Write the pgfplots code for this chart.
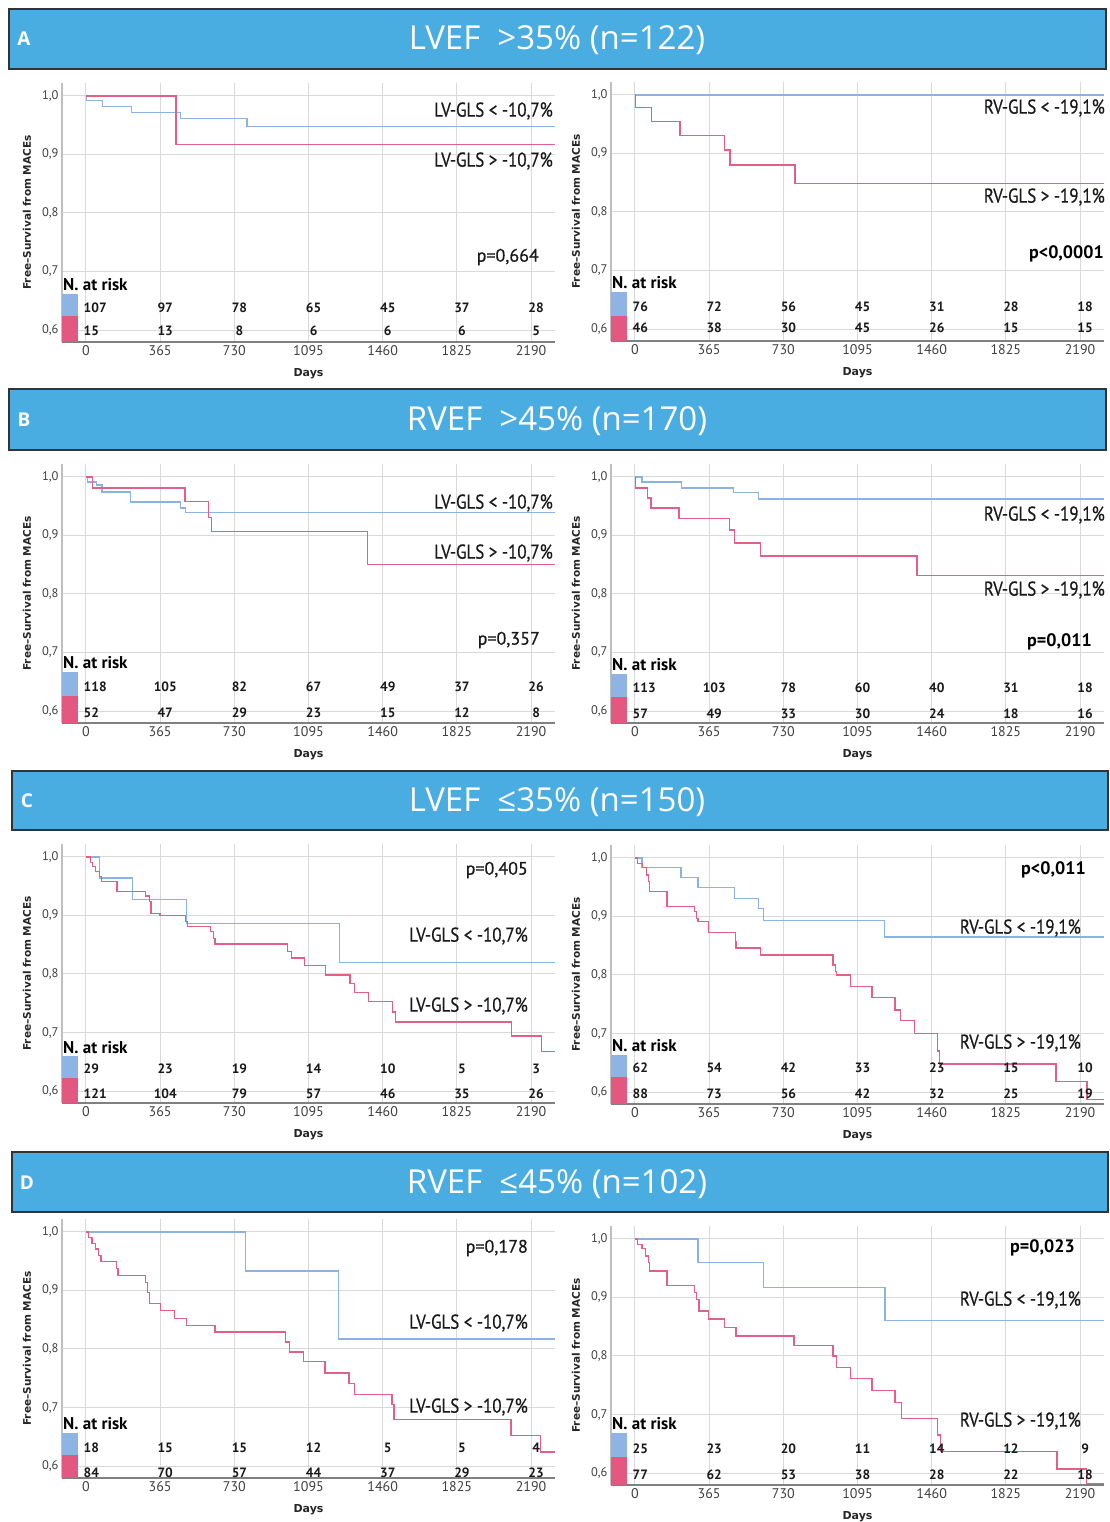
\documentclass[border=0pt]{standalone}
\usepackage{pgfplots}
\pgfplotsset{compat=1.18}
\usepackage{fontspec}
\usepackage{graphicx}
\setmainfont{PT Sans}
\newfontfamily\osans{Open Sans}
\newfontfamily\dvs{DejaVu Sans}
\newfontfamily\ptm[FakeBold=0.6]{PT Sans}
\definecolor{banner}{RGB}{74,173,226}
\definecolor{kmblue}{RGB}{138,178,226}
\definecolor{kmpink}{RGB}{226,96,136}
\definecolor{boxblue}{RGB}{141,180,226}
\definecolor{boxpink}{RGB}{226,88,128}
\newcommand\fs[1]{\fontsize{#1}{#1}\selectfont}
\tikzset{rk/.style={font=\bfseries\fs{13.5}, inner sep=0pt, text=black!90}}
\pgfplotsset{
 km/.style={
  scale only axis, width=493pt, height=259pt,
  xmin=-118, xmax=2308, ymin=0.5795, ymax=1.022,
  axis x line*=bottom, axis y line*=left,
  x axis line style={draw=black!50, line width=1.3pt, -},
  y axis line style={draw=black!25, line width=1.1pt, -},
  xtick={0,365,730,1095,1460,1825,2190},
  xticklabels={0,365,730,1095,1460,1825,2190},
  ytick={0.6,0.7,0.8,0.9,1.0},
  yticklabels={{0,6},{0,7},{0,8},{0,9},{1,0}},
  major tick length=0pt,
  grid=major, grid style={draw=black!15, line width=1pt},
  xticklabel style={font=\fs{14}, text=black!75},
  yticklabel style={font=\fs{12.5}, text=black!75},
  ylabel={Free–Survival from MACEs},
  ylabel style={font=\dvs\bfseries\fs{10.5}, text=black!85, at={(axis description cs:-0.071,0.5)}, anchor=center},
  xlabel={Days},
  xlabel style={font=\dvs\bfseries\fs{11}, text=black!85, at={(axis description cs:0.5,0)}, anchor=center, yshift=-32pt},
  clip=true,
 },
 bl/.style={const plot, color=kmblue, line width=1.3pt, mark=none},
 pk/.style={const plot, color=kmpink, line width=1.3pt, mark=none},
}
\newcommand\riskrow[8]{%
 \node[rk,anchor=west] at (axis cs:-12,#1) {#2};
 \node[rk] at (axis cs:390,#1) {#3};
 \node[rk] at (axis cs:755,#1) {#4};
 \node[rk] at (axis cs:1120,#1) {#5};
 \node[rk] at (axis cs:1485,#1) {#6};
 \node[rk] at (axis cs:1850,#1) {#7};
 \node[rk] at (axis cs:2215,#1) {#8};
}
\newcommand\riskhead[3]{%
 \fill[boxblue] (axis cs:-118,#2) rectangle (axis cs:-40,#3);
 \fill[boxpink] (axis cs:-118,#3) rectangle (axis cs:-40,0.5795);
 \node[font=\bfseries\fs{17}, anchor=west, inner sep=0pt] at (axis cs:-113,#1) {N. at risk};
}
\newcommand\lab[3]{\node[anchor=east, inner sep=0pt, font=\ptm\fs{20}, text=black!90] at (#1pt,-#2pt) {\scalebox{0.85}[1]{#3}};}
\newcommand\pv[3]{\node[anchor=east, inner sep=0pt, font=\ptm\fs{18}, text=black!90] at (#1pt,-#2pt) {#3};}
\newcommand\pvb[3]{\node[anchor=east, inner sep=0pt, font=\bfseries\fs{18}] at (#1pt,-#2pt) {#3};}
\newcommand\banner[7]{%
 \draw[fill=banner, draw=black!80, line width=1.5pt] (#1pt,-#2pt) rectangle (#3pt,-#4pt);
 \node[text=white, font=\osans\bfseries\fs{19}] at (#1pt+15pt,-#5pt) {#6};
 \node[text=white, font=\osans\fs{33}] at (557pt,-#5pt-1pt) {#7};
}
\begin{document}
\begin{tikzpicture}
\path[use as bounding box] (0,0) rectangle (1110pt,-1522pt);
\fill[white] (0,0) rectangle (1110pt,-1522pt);
\banner{9}{9}{1106}{69}{39}{A}{LVEF\ \ >35\% (n=122)}
\banner{9}{389}{1106}{450}{420}{B}{RVEF\ \ >45\% (n=170)}
\banner{12}{771}{1108}{830}{801}{C}{LVEF\ \ ≤35\% (n=150)}
\banner{12}{1152}{1108}{1212}{1183}{D}{RVEF\ \ ≤45\% (n=102)}

% ---------- A left
\begin{axis}[km, at={(62pt,-342pt)}, anchor=south west]
\riskhead{0.677}{0.661}{0.624}
\addplot[bl] coordinates {(0,1) (3,0.992) (83,0.982) (225,0.972) (466,0.961) (792,0.948) (2310,0.948)};
\addplot[pk] coordinates {(0,1) (443,0.917) (2310,0.917)};
\riskrow{0.6376}{107}{97}{78}{65}{45}{37}{28}
\riskrow{0.5983}{15}{13}{8}{6}{6}{6}{5}
\end{axis}
\lab{553}{111}{LV-GLS < -10,7\%}
\lab{553}{161}{LV-GLS > -10,7\%}
\pv{539}{257}{p=0,664}

% ---------- A right
\begin{axis}[km, at={(611pt,-341pt)}, anchor=south west]
\riskhead{0.680}{0.664}{0.622}
\addplot[bl] coordinates {(0,1) (2310,1)};
\addplot[pk] coordinates {(0,1) (4,0.978) (82,0.955) (222,0.931) (441,0.906) (468,0.880) (788,0.849) (2310,0.849)};
\riskrow{0.6376}{76}{72}{56}{45}{31}{28}{18}
\riskrow{0.6017}{46}{38}{30}{45}{26}{15}{15}
\end{axis}
\lab{1105}{108}{RV-GLS < -19,1\%}
\lab{1105}{197}{RV-GLS > -19,1\%}
\pvb{1104}{254}{p<0,0001}

% ---------- B left
\begin{axis}[km, at={(62pt,-723pt)}, anchor=south west]
\riskhead{0.682}{0.666}{0.625}
\addplot[bl] coordinates {(0,1) (9,0.991) (53,0.986) (79,0.974) (219,0.957) (465,0.947) (491,0.939) (2310,0.939)};
\addplot[pk] coordinates {(0,1) (32,0.981) (487,0.958) (604,0.931) (617,0.907) (1386,0.85) (2310,0.85)};
\riskrow{0.641}{118}{105}{82}{67}{49}{37}{26}
\riskrow{0.597}{52}{47}{29}{23}{15}{12}{8}
\end{axis}
\lab{553}{503}{LV-GLS < -10,7\%}
\lab{553}{553}{LV-GLS > -10,7\%}
\pv{540}{640}{p=0,357}

% ---------- B right
\begin{axis}[km, at={(611pt,-723pt)}, anchor=south west]
\riskhead{0.679}{0.663}{0.624}
\addplot[bl] coordinates {(0,1) (35,0.991) (228,0.981) (485,0.973) (608,0.962) (2310,0.962)};
\addplot[pk] coordinates {(0,1) (3,0.981) (60,0.964) (79,0.947) (217,0.929) (465,0.909) (490,0.887) (617,0.865) (1388,0.831) (2310,0.831)};
\riskrow{0.639}{113}{103}{78}{60}{40}{31}{18}
\riskrow{0.595}{57}{49}{33}{30}{24}{18}{16}
\end{axis}
\lab{1105}{515}{RV-GLS < -19,1\%}
\lab{1105}{590}{RV-GLS > -19,1\%}
\pvb{1092}{642}{p=0,011}

% ---------- C left
\begin{axis}[km, at={(62pt,-1103pt)}, anchor=south west]
\riskhead{0.675}{0.659}{0.622}
\addplot[bl] coordinates {(0,1) (68,0.964) (228,0.927) (495,0.886) (1247,0.82) (2310,0.82)};
\addplot[pk] coordinates {(0,1) (21,0.99) (33,0.983) (47,0.975) (65,0.966) (77,0.958) (153,0.941) (293,0.933) (311,0.924) (320,0.903) (364,0.9) (490,0.89) (500,0.881) (612,0.873) (626,0.861) (635,0.851) (992,0.838) (1010,0.827) (1075,0.814) (1180,0.798) (1299,0.784) (1320,0.768) (1391,0.753) (1510,0.735) (1522,0.718) (2093,0.694) (2242,0.667) (2310,0.667)};
\riskrow{0.6376}{29}{23}{19}{14}{10}{5}{3}
\riskrow{0.595}{121}{104}{79}{57}{46}{35}{26}
\end{axis}
\pv{528}{870}{p=0,405}
\lab{528}{936}{LV-GLS < -10,7\%}
\lab{528}{1006}{LV-GLS > -10,7\%}

% ---------- C right
\begin{axis}[km, at={(611pt,-1104pt)}, anchor=south west]
\riskhead{0.680}{0.664}{0.626}
\addplot[bl] coordinates {(0,1) (35,0.984) (227,0.967) (310,0.95) (490,0.931) (607,0.913) (633,0.893) (1228,0.865) (2310,0.865)};
\addplot[pk] coordinates {(0,1) (12,0.99) (38,0.983) (56,0.971) (65,0.96) (73,0.943) (157,0.917) (292,0.909) (301,0.897) (310,0.891) (362,0.873) (493,0.857) (497,0.846) (616,0.834) (974,0.817) (988,0.806) (992,0.8) (1062,0.78) (1167,0.761) (1280,0.74) (1307,0.722) (1376,0.7) (1490,0.67) (1499,0.648) (2071,0.618) (2225,0.587) (2310,0.587)};
\riskrow{0.641}{62}{54}{42}{33}{23}{15}{10}
\riskrow{0.5966}{88}{73}{56}{42}{32}{25}{19}
\end{axis}
\pvb{1086}{870}{p<0,011}
\lab{1081}{928}{RV-GLS < -19,1\%}
\lab{1081}{1043}{RV-GLS > -19,1\%}

% ---------- D left
\begin{axis}[km, at={(62pt,-1478pt)}, anchor=south west]
\riskhead{0.673}{0.657}{0.618}
\addplot[bl] coordinates {(0,1) (785,0.933) (1243,0.817) (2310,0.817)};
\addplot[pk] coordinates {(0,1) (12,0.99) (30,0.98) (47,0.971) (61,0.96) (74,0.95) (149,0.938) (158,0.926) (293,0.914) (304,0.897) (311,0.878) (365,0.866) (435,0.852) (495,0.84) (635,0.829) (983,0.812) (1000,0.795) (1071,0.778) (1176,0.759) (1295,0.741) (1320,0.722) (1506,0.705) (1515,0.68) (2092,0.652) (2238,0.624) (2310,0.624)};
\riskrow{0.631}{18}{15}{15}{12}{5}{5}{4}
\riskrow{0.5885}{84}{70}{57}{44}{37}{29}{23}
\end{axis}
\pv{528}{1248}{p=0,178}
\lab{528}{1323}{LV-GLS < -10,7\%}
\lab{528}{1407}{LV-GLS > -10,7\%}

% ---------- D right
\begin{axis}[km, at={(611pt,-1485pt)}, anchor=south west]
\riskhead{0.685}{0.669}{0.628}
\addplot[bl] coordinates {(0,1) (310,0.96) (633,0.917) (1231,0.86) (2310,0.86)};
\addplot[pk] coordinates {(0,1) (12,0.99) (35,0.983) (52,0.971) (65,0.96) (73,0.945) (157,0.92) (292,0.908) (301,0.897) (315,0.877) (362,0.863) (441,0.849) (497,0.834) (782,0.818) (974,0.8) (992,0.78) (1062,0.762) (1167,0.741) (1280,0.72) (1312,0.693) (1490,0.665) (1504,0.637) (2076,0.607) (2221,0.582) (2310,0.582)};
\riskrow{0.641}{25}{23}{20}{11}{14}{12}{9}
\riskrow{0.5966}{77}{62}{53}{38}{28}{22}{18}
\end{axis}
\pvb{1075}{1248}{p=0,023}
\lab{1081}{1300}{RV-GLS < -19,1\%}
\lab{1081}{1421}{RV-GLS > -19,1\%}
\end{tikzpicture}
\end{document}
